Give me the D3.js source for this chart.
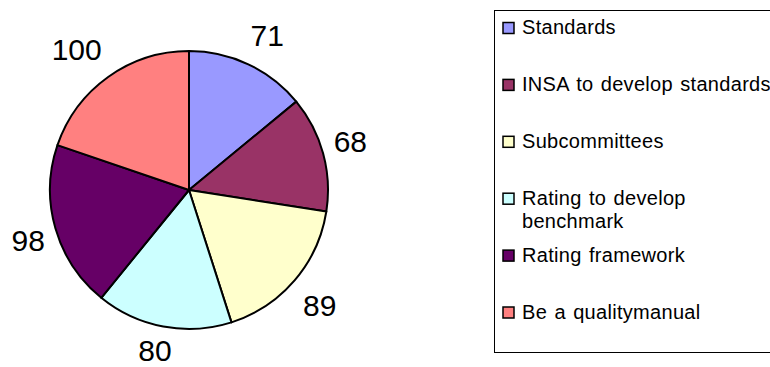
<!DOCTYPE html>
<html>
<head>
<meta charset="utf-8">
<script src="https://cdn.jsdelivr.net/npm/d3@7"></script>
<style>
  html, body { margin: 0; padding: 0; background: #fff; }
  svg { display: block; }
  text { font-family: "Liberation Sans", Arial, sans-serif; fill: #000; }
</style>
</head>
<body>
<svg id="chart" width="770" height="367"></svg>
<script>
// Slice categories, counts and fills
const categories = [
  "Standards",
  "INSA to develop standards",
  "Subcommittees",
  "Rating to develop benchmark",
  "Rating framework",
  "Be a qualitymanual"
];
const values = [71, 68, 89, 80, 98, 100];
const colors = ["#9999FF", "#993366", "#FFFFCC", "#CCFFFF", "#660066", "#FF8080"];
// Legend entries split into lines
const legendLines = [
  ["Standards"],
  ["INSA to develop standards"],
  ["Subcommittees"],
  ["Rating to develop", "benchmark"],
  ["Rating framework"],
  ["Be a qualitymanual"]
];

const W = 770, H = 367;
const svg = d3.select("#chart");
const cx = 189, cy = 190, radius = 139;

const pie = d3.pie().sort(null).value(d => d.value);
const arcs = pie(values.map((v, i) => ({ value: v, i })));
const arc = d3.arc().innerRadius(0).outerRadius(radius);

const g = svg.append("g").attr("transform", `translate(${cx},${cy})`);

g.selectAll("path.slice")
  .data(arcs)
  .join("path")
  .attr("class", "slice")
  .attr("d", arc)
  .attr("fill", d => colors[d.data.i])
  .attr("stroke", "#000")
  .attr("stroke-width", 2)
  .attr("stroke-linejoin", "round");

// Value labels: anchor point just outside the rim on the slice's mid-angle,
// then the text box is shifted away from the pie so its near corner touches it
const labels = g.selectAll("text.val")
  .data(arcs)
  .join("text")
  .attr("class", "val")
  .attr("font-size", 30)
  .attr("text-anchor", "middle")
  .attr("dominant-baseline", "central")
  .text(d => d.data.value);

const clamp1 = v => Math.max(-1, Math.min(1, v));
labels.each(function (d) {
  const bb = this.getBBox();
  const a = (d.startAngle + d.endAngle) / 2;
  const ux = Math.sin(a), uy = -Math.cos(a);
  const hw = bb.width / 2, hh = 15;
  const x = 150 * ux + hw * clamp1(2 * ux);
  let y = 154 * uy + hh * clamp1(2 * uy);
  // keep the whole text box inside the drawing area
  y = Math.min(y, H - cy - bb.height / 2 - 0.5);
  d3.select(this).attr("x", x).attr("y", y);
});

// Legend
const lg = svg.append("g");
lg.append("rect")
  .attr("x", 494.5).attr("y", 10.5)
  .attr("width", 290).attr("height", 342)
  .attr("fill", "#fff")
  .attr("stroke", "#000")
  .attr("stroke-width", 1);

const rowY = d3.scaleLinear().domain([0, 5]).range([34, 318.5]);

const items = lg.selectAll("g.item")
  .data(categories.map((c, i) => ({ c, i })))
  .join("g")
  .attr("class", "item")
  .attr("transform", d => `translate(0,${rowY(d.i)})`);

items.append("rect")
  .attr("x", 503).attr("y", -11.5)
  .attr("width", 11).attr("height", 11)
  .attr("fill", d => colors[d.i])
  .attr("stroke", "#000")
  .attr("stroke-width", 1.5);

items.append("text")
  .attr("x", 522)
  .attr("font-size", 20)
  .attr("letter-spacing", 0.3)
  .attr("word-spacing", 1.5)
  .selectAll("tspan")
  .data(d => legendLines[d.i])
  .join("tspan")
  .attr("x", 522)
  .attr("dy", (d, k) => k === 0 ? 0 : 23)
  .text(d => d);
</script>
</body>
</html>
